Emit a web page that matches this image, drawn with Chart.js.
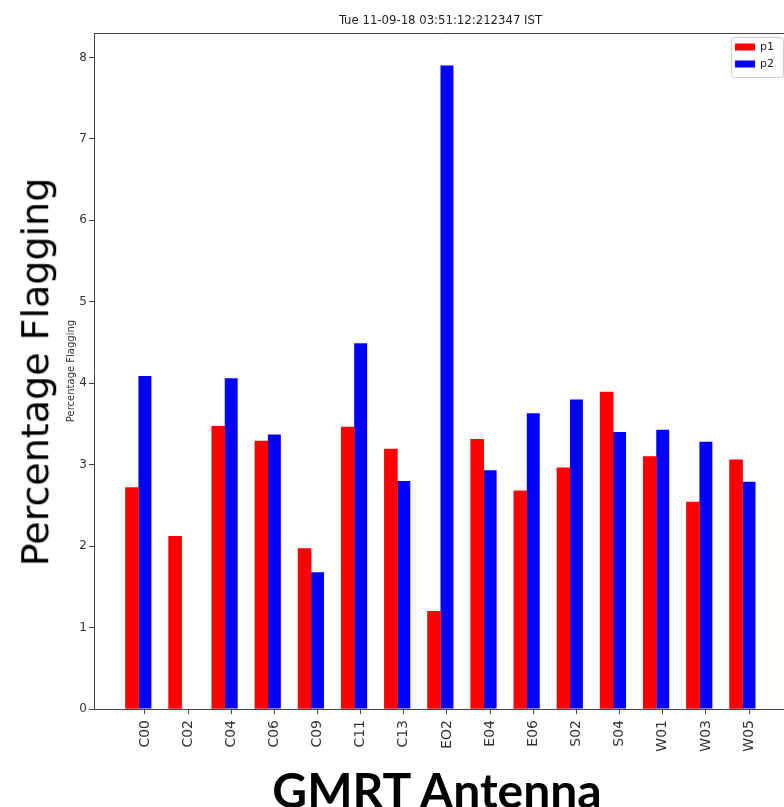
<!DOCTYPE html>
<html>
<head>
<meta charset="utf-8">
<script src="https://cdn.jsdelivr.net/npm/chart.js@4.4.1/dist/chart.umd.min.js"></script>
<style>
  html, body { margin: 0; padding: 0; background: #fff; overflow: hidden; }
  #wrap { position: relative; width: 784px; height: 807px; overflow: hidden; }
  #grafico { position: absolute; left: 0; top: 0; }
  .big { position: absolute; color: #000; white-space: nowrap; line-height: 1.2; }
  #ylab { font-family: "DejaVu Sans"; font-size: 38px; left: 36px; top: 372px; transform: translate(-50%, -50%) rotate(-90deg); }
  #xlab { font-family: Lato; font-weight: bold; font-size: 48px; left: 437px; top: 790px; transform: translate(-50%, -50%); }
</style>
</head>
<body>
<div id="wrap">
  <canvas id="grafico" width="800" height="807"></canvas>
  <div class="big" id="ylab">Percentage Flagging</div>
  <div class="big" id="xlab">GMRT Antenna</div>
</div>
<script>
const titulo = "Tue 11-09-18 03:51:12:212347 IST";
const antenas = ["C00", "C02", "C04", "C06", "C09", "C11", "C13", "EO2", "E04", "E06", "S02", "S04", "W01", "W03", "W05"];
const p1 = [2.72, 2.12, 3.47, 3.29, 1.97, 3.46, 3.19, 1.20, 3.31, 2.68, 2.96, 3.89, 3.10, 2.54, 3.06];
const p2 = [4.09, 0, 4.06, 3.37, 1.68, 4.49, 2.80, 7.90, 2.93, 3.63, 3.80, 3.40, 3.43, 3.28, 2.79];
const ticksY = [0, 1, 2, 3, 4, 5, 6, 7, 8];

const ctx = document.getElementById("grafico");
const gris = "#444";

// titulo, marco superior y leyenda dentro del area
const decor = {
  id: "decor",
  afterDraw(chart) {
    const c = chart.ctx;
    const a = chart.chartArea;
    c.save();
    c.strokeStyle = gris;
    c.lineWidth = 1;
    c.beginPath();
    c.moveTo(a.left, a.top + 0.5);
    c.lineTo(a.right - 0.5, a.top + 0.5);
    c.lineTo(a.right - 0.5, a.bottom);
    c.stroke();

    c.fillStyle = "#222";
    c.font = '13px "DejaVu Sans Condensed", "DejaVu Sans"';
    c.textAlign = "center";
    c.textBaseline = "alphabetic";
    c.fillText(titulo, (a.left + a.right) / 2, a.top - 9);

    // leyenda
    const x0 = a.right - 56, y0 = a.top + 4;
    c.beginPath();
    c.roundRect(x0 + 0.5, y0 + 0.5, 52, 40, 3);
    c.fillStyle = "rgba(255,255,255,0.8)";
    c.fill();
    c.strokeStyle = "#ccc";
    c.stroke();
    c.font = '11px "DejaVu Sans"';
    c.textAlign = "left";
    c.textBaseline = "middle";
    chart.data.datasets.forEach((ds, i) => {
      const cy = y0 + 10 + i * 17;
      c.fillStyle = ds.backgroundColor;
      c.fillRect(x0 + 4, cy - 3.5, 20, 7);
      c.fillStyle = "#222";
      c.fillText(ds.label, x0 + 29, cy);
    });
    c.restore();
  }
};

const soloEnteros = (n) => (s) => {
  s.ticks = s.ticks.filter(t => Number.isInteger(t.value) && t.value >= 0 && t.value < n);
};

window.grafica = new Chart(ctx, {
  type: "bar",
  data: {
    datasets: [{
      label: "p1",
      data: p1.map((v, i) => ({ x: i - 0.3, y: v })),
      backgroundColor: "rgb(255, 0, 0)",
      grouped: false,
      categoryPercentage: 1,
      barPercentage: 1
    },
    {
      label: "p2",
      data: p2.map((v, i) => ({ x: i, y: v })),
      backgroundColor: "rgb(0, 0, 255)",
      grouped: false,
      inflateAmount: 0,
      categoryPercentage: 1,
      barPercentage: 1
    }]
  },
  options: {
    responsive: false,
    animation: false,
    layout: { padding: { top: 33, left: 0, right: 13, bottom: 0 } },
    plugins: {
      legend: { display: false },
      title: { display: false },
      tooltip: { enabled: false }
    },
    scales: {
      x: {
        type: "linear",
        min: -1.18,
        max: 14.88,
        offset: false,
        afterFit: (s) => { s.height = 98; },
        afterBuildTicks: soloEnteros(antenas.length),
        ticks: {
          stepSize: 1,
          autoSkip: false,
          minRotation: 90,
          maxRotation: 90,
          padding: 6,
          color: "#333",
          font: { family: "DejaVu Sans", size: 14 },
          callback: (v) => antenas[v]
        },
        grid: { offset: false, drawOnChartArea: false, tickLength: 5, color: gris },
        border: { color: gris }
      },
      y: {
        min: 0,
        max: 8.3,
        afterFit: (s) => { s.width = 94; },
        afterBuildTicks: (s) => { s.ticks = s.ticks.filter(t => ticksY.includes(t.value)); },
        ticks: {
          stepSize: 1,
          padding: 2,
          color: "#333",
          font: { family: "DejaVu Sans", size: 12 }
        },
        grid: { drawOnChartArea: false, tickLength: 5, color: gris },
        border: { color: gris },
        title: {
          display: true,
          text: "Percentage Flagging",
          color: "#333",
          font: { family: "DejaVu Sans", size: 10 },
          padding: { top: 65, bottom: 4 }
        }
      }
    }
  },
  plugins: [decor]
});
</script>
</body>
</html>
